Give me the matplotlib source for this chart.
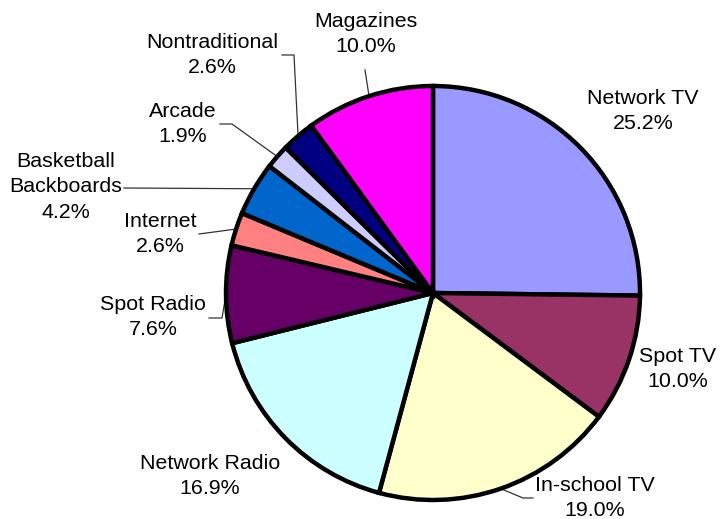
import numpy as np
import matplotlib
matplotlib.use("Agg")
import matplotlib.pyplot as plt

categories = ["Network TV", "Spot TV", "In-school TV", "Network Radio", "Spot Radio",
              "Internet", "Basketball\nBackboards", "Arcade", "Nontraditional", "Magazines"]
shares = [25.2, 10.0, 19.0, 16.9, 7.6, 2.6, 4.2, 1.9, 2.6, 10.0]
colors = ["#9999FF", "#993366", "#FFFFCC", "#CCFFFF", "#660066",
          "#FF8080", "#0066CC", "#CCCCFF", "#000080", "#FF00FF"]

W, H = 720, 519
CX, CY, R = 433, 293, 207

# label centres (pixels from top-left) and leader-line elbows
label_pos = {
    "Network TV": (643, 111),
    "Spot TV": (678, 369),
    "In-school TV": (595, 498),
    "Network Radio": (210, 476),
    "Spot Radio": (153, 317),
    "Internet": (160, 234),
    "Basketball\nBackboards": (66, 187),
    "Arcade": (183, 124),
    "Nontraditional": (212, 55),
    "Magazines": (366, 34),
}
elbows = {
    "In-school TV": [(533, 498), (523, 498)],
    "Spot Radio": [(209, 318), (222, 318)],
    "Internet": [(199, 234)],
    "Basketball\nBackboards": [(124, 188)],
    "Arcade": [(220, 124), (232, 124)],
    "Nontraditional": [(282, 55), (294, 55)],
    "Magazines": [(365, 70)],
}

plt.rcParams["font.family"] = ["Liberation Sans", "DejaVu Sans"]
fig = plt.figure(figsize=(W / 100, H / 100), dpi=100)
ax = fig.add_axes([0, 0, 1, 1])

def fy(y):
    return H - y

ax.pie(shares, colors=colors, startangle=90, counterclock=False,
       center=(CX, fy(CY)), radius=R,
       wedgeprops=dict(edgecolor="black", linewidth=3.2, joinstyle="miter"))

cum = np.cumsum([0] + shares[:-1])
for name, v, c0 in zip(categories, shares, cum):
    lx, ly = label_pos[name]
    ax.text(lx, fy(ly), f"{name}\n{v:.1f}%", ha="center", va="center",
            fontsize=15.4, linespacing=1.42, color="black")
    if name in elbows:
        theta = np.deg2rad(90 - 360 * (c0 + v / 2) / sum(shares))
        ex = CX + R * np.cos(theta)
        ey = CY - R * np.sin(theta)
        pts = elbows[name] + [(ex, ey)]
        ax.plot([p[0] for p in pts], [fy(p[1]) for p in pts],
                color="#333333", linewidth=0.9, zorder=0)

ax.set_xlim(0, W)
ax.set_ylim(0, H)
ax.set_aspect("equal")
ax.axis("off")
fig.savefig("out.png", dpi=100, facecolor="white")
